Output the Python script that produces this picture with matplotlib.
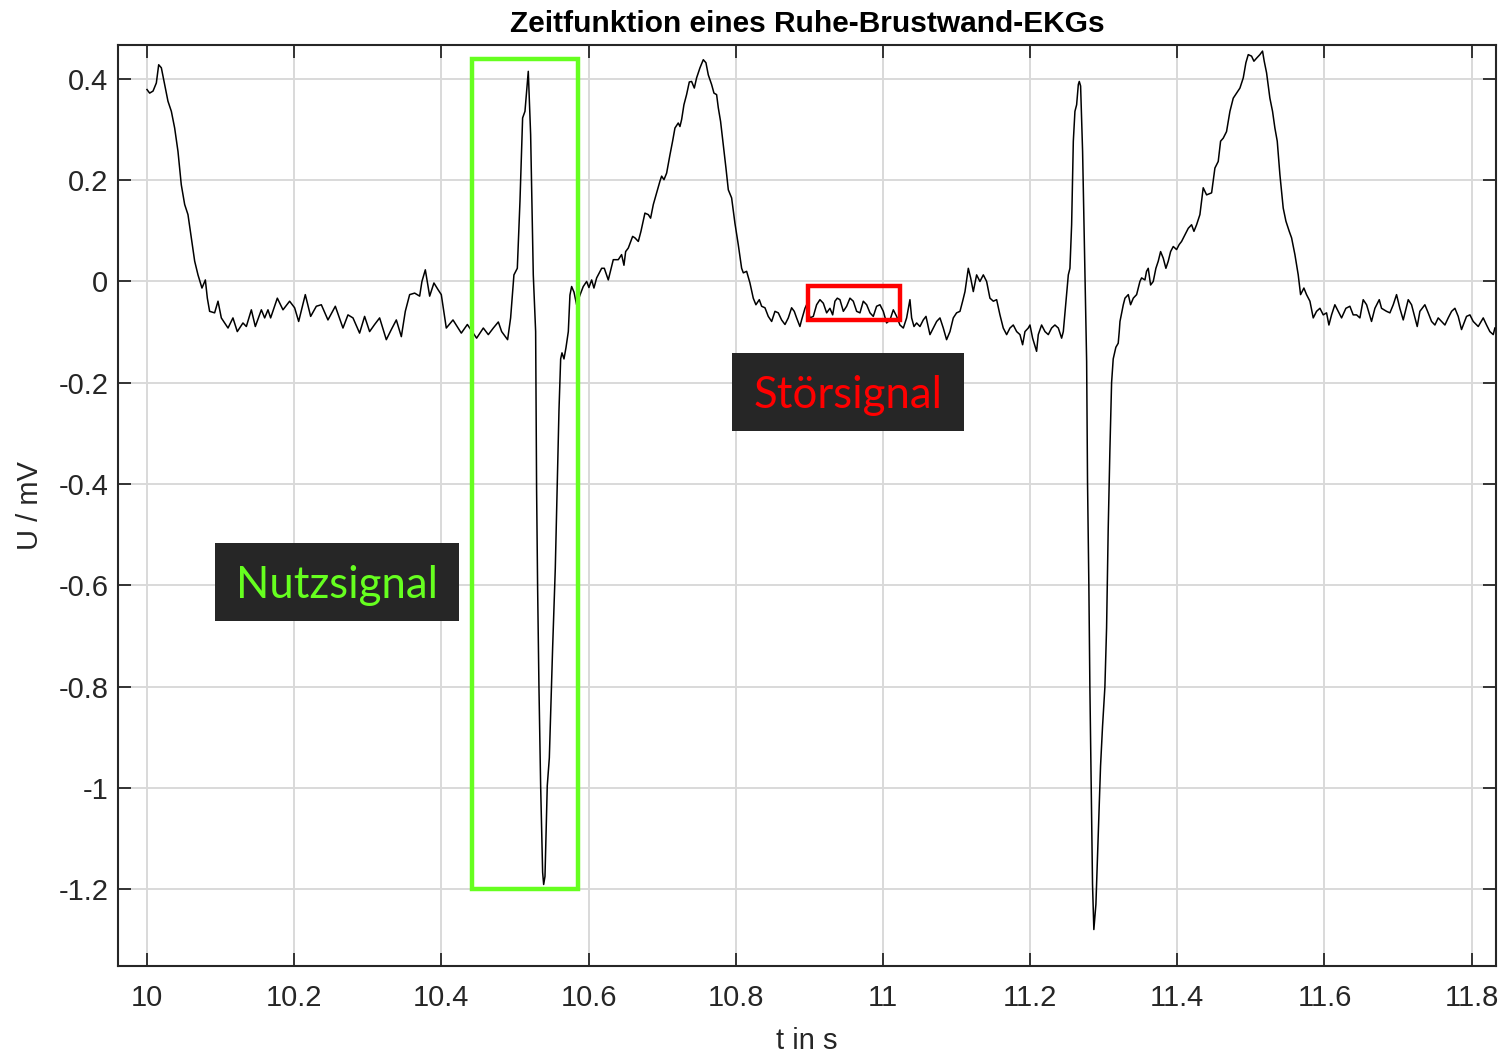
import matplotlib
matplotlib.use('Agg')
import matplotlib.pyplot as plt
from matplotlib.patches import Rectangle

# EKG-Zeitfunktion (t in s, U in mV)
t_s = [
    10.0000, 10.0036, 10.0082, 10.0127, 10.0159, 10.0195, 10.0240, 10.0285, 10.0331, 10.0376,
    10.0421, 10.0466, 10.0512, 10.0557, 10.0602, 10.0648, 10.0693, 10.0747, 10.0793, 10.0820,
    10.0851, 10.0919, 10.0965, 10.1010, 10.1101, 10.1168, 10.1227, 10.1304, 10.1350, 10.1418,
    10.1472, 10.1554, 10.1599, 10.1644, 10.1680, 10.1771, 10.1848, 10.1938, 10.2006, 10.2061,
    10.2151, 10.2224, 10.2301, 10.2369, 10.2459, 10.2559, 10.2663, 10.2731, 10.2799, 10.2889,
    10.2957, 10.3025, 10.3093, 10.3161, 10.3252, 10.3320, 10.3388, 10.3456, 10.3510, 10.3569,
    10.3637, 10.3705, 10.3736, 10.3782, 10.3841, 10.3899, 10.3954, 10.3999, 10.4067, 10.4158,
    10.4271, 10.4353, 10.4479, 10.4570, 10.4638, 10.4706, 10.4774, 10.4819, 10.4900, 10.4941,
    10.4986, 10.5032, 10.5068, 10.5104, 10.5136, 10.5181, 10.5213, 10.5249, 10.5281, 10.5294,
    10.5308, 10.5326, 10.5349, 10.5376, 10.5390, 10.5408, 10.5439, 10.5467, 10.5512, 10.5548,
    10.5575, 10.5598, 10.5621, 10.5639, 10.5666, 10.5693, 10.5725, 10.5747, 10.5770, 10.5802,
    10.5838, 10.5883, 10.5928, 10.5974, 10.6005, 10.6042, 10.6073, 10.6110, 10.6178, 10.6214,
    10.6268, 10.6336, 10.6404, 10.6449, 10.6481, 10.6504, 10.6540, 10.6599, 10.6631, 10.6676,
    10.6712, 10.6766, 10.6812, 10.6843, 10.6880, 10.6925, 10.6970, 10.6993, 10.7025, 10.7061,
    10.7106, 10.7142, 10.7174, 10.7219, 10.7242, 10.7265, 10.7296, 10.7332, 10.7369, 10.7400,
    10.7437, 10.7468, 10.7514, 10.7559, 10.7595, 10.7627, 10.7672, 10.7704, 10.7740, 10.7763,
    10.7794, 10.7831, 10.7867, 10.7899, 10.7944, 10.7989, 10.8034, 10.8080, 10.8103, 10.8148,
    10.8193, 10.8238, 10.8274, 10.8320, 10.8352, 10.8397, 10.8442, 10.8488, 10.8533, 10.8578,
    10.8623, 10.8669, 10.8714, 10.8759, 10.8795, 10.8827, 10.8872, 10.8895, 10.8941, 10.8963,
    10.9009, 10.9054, 10.9099, 10.9144, 10.9190, 10.9235, 10.9280, 10.9317, 10.9348, 10.9380,
    10.9416, 10.9462, 10.9507, 10.9552, 10.9597, 10.9643, 10.9688, 10.9733, 10.9779, 10.9824,
    10.9869, 10.9914, 10.9960, 11.0005, 11.0050, 11.0096, 11.0141, 11.0186, 11.0231, 11.0277,
    11.0322, 11.0367, 11.0390, 11.0422, 11.0458, 11.0503, 11.0548, 11.0585, 11.0639, 11.0684,
    11.0730, 11.0775, 11.0820, 11.0865, 11.0911, 11.0956, 11.1001, 11.1047, 11.1083, 11.1115,
    11.1160, 11.1192, 11.1228, 11.1273, 11.1318, 11.1364, 11.1409, 11.1454, 11.1500, 11.1545,
    11.1590, 11.1635, 11.1681, 11.1726, 11.1771, 11.1817, 11.1862, 11.1898, 11.1930, 11.1975,
    11.1998, 11.2034, 11.2088, 11.2111, 11.2156, 11.2202, 11.2247, 11.2292, 11.2337, 11.2383,
    11.2428, 11.2451, 11.2487, 11.2519, 11.2541, 11.2564, 11.2587, 11.2609, 11.2632, 11.2655,
    11.2668, 11.2686, 11.2713, 11.2745, 11.2768, 11.2780, 11.2798, 11.2812, 11.2830, 11.2848,
    11.2866, 11.2894, 11.2921, 11.2957, 11.2984, 11.3016, 11.3039, 11.3061, 11.3084, 11.3107,
    11.3129, 11.3165, 11.3197, 11.3211, 11.3221, 11.3266, 11.3289, 11.3334, 11.3365, 11.3402,
    11.3447, 11.3492, 11.3515, 11.3560, 11.3582, 11.3605, 11.3637, 11.3673, 11.3709, 11.3741,
    11.3773, 11.3809, 11.3845, 11.3877, 11.3909, 11.3945, 11.3990, 11.4026, 11.4058, 11.4103,
    11.4149, 11.4194, 11.4226, 11.4262, 11.4307, 11.4352, 11.4398, 11.4466, 11.4511, 11.4556,
    11.4588, 11.4624, 11.4669, 11.4715, 11.4760, 11.4805, 11.4851, 11.4896, 11.4932, 11.4964,
    11.5009, 11.5041, 11.5077, 11.5122, 11.5158, 11.5181, 11.5213, 11.5258, 11.5294, 11.5326,
    11.5358, 11.5394, 11.5439, 11.5476, 11.5521, 11.5553, 11.5598, 11.5643, 11.5675, 11.5720,
    11.5756, 11.5802, 11.5847, 11.5892, 11.5938, 11.5983, 11.6028, 11.6060, 11.6096, 11.6141,
    11.6187, 11.6232, 11.6291, 11.6345, 11.6390, 11.6436, 11.6481, 11.6526, 11.6572, 11.6639,
    11.6685, 11.6744, 11.6775, 11.6843, 11.6889, 11.6934, 11.6979, 11.7024, 11.7070, 11.7138,
    11.7183, 11.7242, 11.7260, 11.7296, 11.7364, 11.7409, 11.7455, 11.7500, 11.7545, 11.7591,
    11.7636, 11.7681, 11.7727, 11.7772, 11.7817, 11.7862, 11.7930, 11.7976, 11.8021, 11.8089,
    11.8157, 11.8202, 11.8247, 11.8293, 11.8315,
]

u_mv = [
    0.379, 0.372, 0.376, 0.392, 0.428, 0.422, 0.389, 0.356, 0.336, 0.303,
    0.257, 0.191, 0.152, 0.132, 0.086, 0.040, 0.013, -0.013, 0.003, -0.033,
    -0.059, -0.062, -0.039, -0.072, -0.092, -0.072, -0.099, -0.082, -0.089, -0.056,
    -0.089, -0.056, -0.072, -0.056, -0.072, -0.033, -0.056, -0.039, -0.052, -0.079,
    -0.026, -0.069, -0.049, -0.046, -0.076, -0.049, -0.092, -0.066, -0.072, -0.102,
    -0.069, -0.099, -0.085, -0.072, -0.115, -0.095, -0.076, -0.109, -0.059, -0.026,
    -0.023, -0.029, 0.000, 0.023, -0.029, -0.003, -0.016, -0.026, -0.092, -0.076,
    -0.102, -0.085, -0.112, -0.092, -0.105, -0.092, -0.080, -0.099, -0.115, -0.072,
    0.013, 0.026, 0.158, 0.323, 0.336, 0.415, 0.290, 0.013, -0.099, -0.411,
    -0.606, -0.801, -0.996, -1.167, -1.191, -1.175, -0.996, -0.941, -0.723, -0.567,
    -0.395, -0.255, -0.153, -0.141, -0.153, -0.131, -0.099, -0.027, -0.010, -0.021,
    -0.046, -0.027, -0.010, 0.000, -0.012, 0.003, -0.013, 0.007, 0.026, 0.026,
    0.003, 0.043, 0.043, 0.053, 0.032, 0.059, 0.066, 0.089, 0.086, 0.079,
    0.099, 0.135, 0.132, 0.125, 0.152, 0.175, 0.198, 0.208, 0.201, 0.214,
    0.250, 0.277, 0.303, 0.313, 0.306, 0.320, 0.349, 0.369, 0.394, 0.395,
    0.382, 0.402, 0.422, 0.438, 0.432, 0.408, 0.389, 0.372, 0.369, 0.343,
    0.316, 0.270, 0.224, 0.181, 0.165, 0.115, 0.073, 0.026, 0.017, 0.020,
    -0.003, -0.033, -0.046, -0.036, -0.049, -0.052, -0.069, -0.079, -0.059, -0.062,
    -0.076, -0.085, -0.072, -0.052, -0.059, -0.072, -0.089, -0.076, -0.053, -0.046,
    -0.072, -0.069, -0.046, -0.036, -0.043, -0.062, -0.053, -0.066, -0.039, -0.033,
    -0.036, -0.059, -0.049, -0.033, -0.039, -0.059, -0.062, -0.039, -0.046, -0.062,
    -0.069, -0.049, -0.046, -0.059, -0.082, -0.076, -0.056, -0.069, -0.086, -0.092,
    -0.072, -0.036, -0.072, -0.089, -0.082, -0.089, -0.076, -0.069, -0.105, -0.092,
    -0.079, -0.072, -0.092, -0.115, -0.099, -0.072, -0.062, -0.059, -0.039, -0.020,
    0.026, 0.007, -0.020, 0.013, 0.000, 0.013, 0.000, -0.033, -0.039, -0.036,
    -0.066, -0.092, -0.105, -0.092, -0.086, -0.099, -0.105, -0.125, -0.099, -0.092,
    -0.086, -0.112, -0.138, -0.105, -0.086, -0.099, -0.105, -0.092, -0.086, -0.092,
    -0.112, -0.099, -0.039, 0.013, 0.026, 0.112, 0.277, 0.336, 0.349, 0.389,
    0.395, 0.386, 0.257, 0.013, -0.158, -0.395, -0.598, -0.801, -0.996, -1.191,
    -1.280, -1.230, -1.113, -0.957, -0.879, -0.801, -0.684, -0.489, -0.333, -0.200,
    -0.153, -0.130, -0.122, -0.099, -0.079, -0.046, -0.033, -0.026, -0.046, -0.033,
    -0.026, 0.000, 0.007, 0.003, 0.020, 0.026, -0.007, 0.000, 0.026, 0.040,
    0.059, 0.046, 0.026, 0.040, 0.059, 0.069, 0.063, 0.073, 0.079, 0.092,
    0.105, 0.112, 0.099, 0.112, 0.132, 0.185, 0.171, 0.175, 0.224, 0.237,
    0.277, 0.283, 0.296, 0.336, 0.362, 0.372, 0.382, 0.402, 0.432, 0.448,
    0.445, 0.435, 0.441, 0.448, 0.455, 0.435, 0.412, 0.362, 0.336, 0.303,
    0.277, 0.211, 0.145, 0.119, 0.099, 0.086, 0.053, 0.013, -0.026, -0.013,
    -0.026, -0.039, -0.072, -0.059, -0.053, -0.066, -0.062, -0.086, -0.066, -0.046,
    -0.059, -0.072, -0.053, -0.049, -0.066, -0.066, -0.072, -0.036, -0.046, -0.079,
    -0.053, -0.036, -0.053, -0.059, -0.062, -0.046, -0.026, -0.053, -0.076, -0.036,
    -0.046, -0.079, -0.089, -0.059, -0.046, -0.062, -0.079, -0.086, -0.072, -0.079,
    -0.086, -0.072, -0.059, -0.053, -0.069, -0.095, -0.069, -0.066, -0.079, -0.089,
    -0.072, -0.086, -0.099, -0.105, -0.092,
]

x_ticks = [10.0, 10.2, 10.4, 10.6, 10.8, 11.0, 11.2, 11.4, 11.6, 11.8]
x_labels = ['10', '10.2', '10.4', '10.6', '10.8', '11', '11.2', '11.4', '11.6', '11.8']
y_ticks = [-1.2, -1.0, -0.8, -0.6, -0.4, -0.2, 0.0, 0.2, 0.4]
y_labels = ['-1.2', '-1', '-0.8', '-0.6', '-0.4', '-0.2', '0', '0.2', '0.4']

dark = '#262626'
green = '#66ff1f'

plt.rcParams['font.family'] = ['Liberation Sans', 'DejaVu Sans']

fig = plt.figure(figsize=(15.05, 10.54), dpi=100)
ax = fig.add_axes([0.0784, 0.0835, 0.9156, 0.8738])

ax.plot(t_s, u_mv, color='black', linewidth=1.1, zorder=3)

ax.set_xlim(9.9606, 11.833)
ax.set_ylim(-1.352, 0.467)
ax.set_xticks(x_ticks)
ax.set_xticklabels(x_labels)
ax.set_yticks(y_ticks)
ax.set_yticklabels(y_labels)

ax.grid(True, color='#d9d9d9', linewidth=1.4, zorder=0)
ax.set_axisbelow(True)
ax.tick_params(direction='in', length=9.5, width=1.3, colors=dark,
               labelsize=21, top=True, right=True)
ax.tick_params(axis='x', pad=13)
ax.tick_params(axis='y', pad=7)
for sp in ax.spines.values():
    sp.set_color(dark)
    sp.set_linewidth(1.5)

ax.set_title('Zeitfunktion eines Ruhe-Brustwand-EKGs', fontsize=21.5,
             fontweight='bold', color='black', pad=9.5)
ax.set_xlabel('t in s', fontsize=21, color=dark, va='center')
ax.set_ylabel('U / mV', fontsize=21, color=dark, va='center')
ax.xaxis.set_label_coords(0.5, -0.081)
ax.yaxis.set_label_coords(-0.064, 0.5)

# Markierungen
ax.add_patch(Rectangle((10.4416, -1.2), 0.144, 1.6395, fill=False,
                       edgecolor=green, linewidth=3.2, zorder=4))
ax.add_patch(Rectangle((10.898, -0.076), 0.125, 0.067, fill=False,
                       edgecolor='red', linewidth=3.2, zorder=4))

ax.add_patch(Rectangle((0.0704, 0.3746), 0.1771, 0.0847, transform=ax.transAxes,
                       facecolor=dark, edgecolor='none', zorder=5))
ax.text(0.1589, 0.3996, 'Nutzsignal', transform=ax.transAxes, color=green,
        fontsize=31.5, family=['Lato', 'DejaVu Sans'], ha='center', va='baseline', zorder=6)
ax.add_patch(Rectangle((0.4456, 0.5809), 0.1683, 0.0847, transform=ax.transAxes,
                       facecolor=dark, edgecolor='none', zorder=5))
ax.text(0.5298, 0.6059, 'Störsignal', transform=ax.transAxes, color='red',
        fontsize=31.5, family=['Lato', 'DejaVu Sans'], ha='center', va='baseline', zorder=6)

plt.savefig('out.png', dpi=100)
